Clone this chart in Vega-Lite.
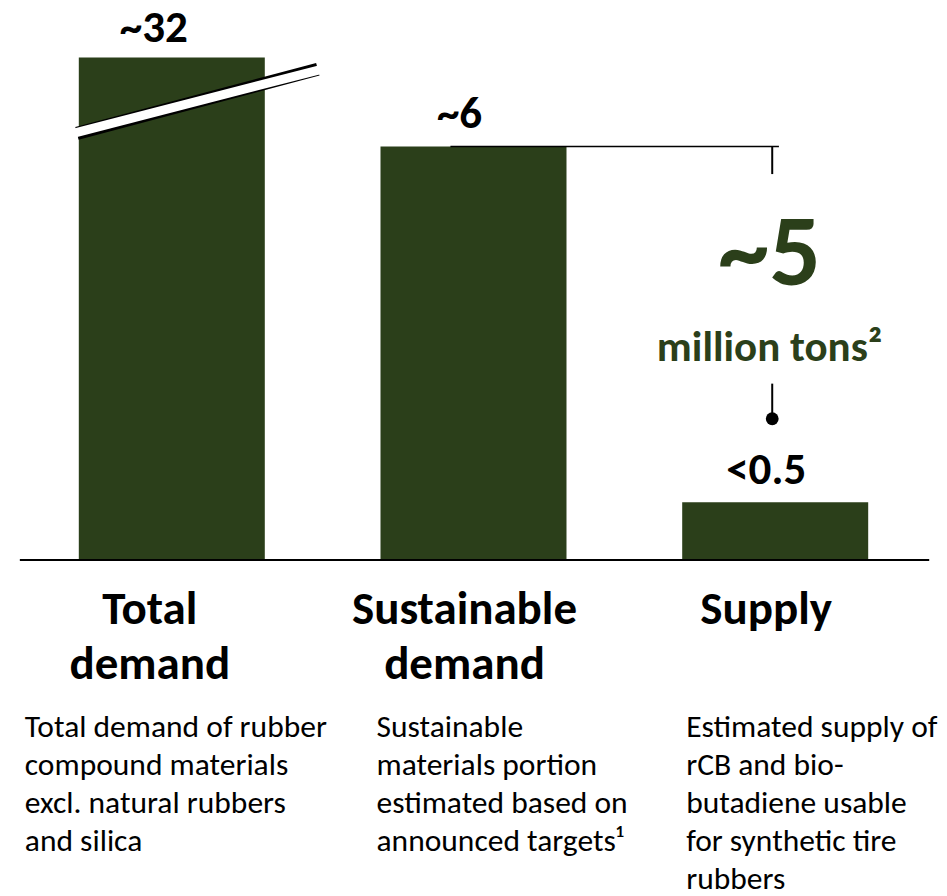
{
  "$schema": "https://vega.github.io/schema/vega-lite/v6.json",
  "width": 947,
  "height": 896,
  "autosize": {"type": "fit", "contains": "padding"},
  "padding": 0,
  "background": "white",
  "config": {"view": {"stroke": null}, "font": "Carlito, Lato", "axis": {"domain": false}},
  "datasets": {
    "bars": [
      {"category": "Total demand", "shown_value": 7.29, "label": "~32", "title": ["Total", "demand"], "desc": ["Total demand of rubber", "compound materials", "excl. natural rubbers", "and silica"]},
      {"category": "Sustainable demand", "shown_value": 6, "label": "~6", "title": ["Sustainable", "demand"], "desc": ["Sustainable", "materials portion", "estimated based on", "announced targets¹"]},
      {"category": "Supply", "shown_value": 0.84, "label": "<0.5", "title": ["Supply"], "desc": ["Estimated supply of", "rCB and bio-", "butadiene usable", "for synthetic tire", "rubbers"]}
    ],
    "breakmark": [
      {"from": "Total demand", "to": "Total demand", "y_start": 6.19, "y_end": 7.12}
    ],
    "baseline": [
      {"from": "Total demand", "to": "Supply", "y": 0}
    ],
    "gap_line": [
      {"from": "Sustainable demand", "to": "Supply", "y": 6}
    ],
    "gap_ticks": [
      {"category": "Supply", "y_start": 6, "y_end": 5.6},
      {"category": "Supply", "y_start": 2.56, "y_end": 2.08}
    ],
    "gap_dot": [
      {"category": "Supply", "y": 2.05}
    ],
    "gap_text": [
      {"category": "Supply", "y": 3.99, "text": "~5", "kind": "big"},
      {"category": "Supply", "y": 2.89, "text": "million tons²", "kind": "unit"}
    ]
  },
  "layer": [
    {
      "data": {"name": "bars"},
      "mark": {"type": "bar", "color": "#2b3f1a"},
      "encoding": {
        "x": {"field": "category", "type": "nominal", "axis": null, "sort": null,
              "scale": {"type": "band", "domain": ["Total demand", "Sustainable demand", "Supply"], "paddingInner": 0.3835, "paddingOuter": 0.2612}},
        "y": {"field": "shown_value", "type": "quantitative", "axis": null,
              "scale": {"domain": [-4.829, 8.125], "nice": false, "zero": false}},
        "y2": {"datum": 0}
      }
    },
    {
      "data": {"name": "breakmark"},
      "mark": {"type": "rule", "color": "black", "strokeWidth": 13, "strokeCap": "butt"},
      "encoding": {
        "x": {"field": "from", "type": "nominal", "bandPosition": -0.01},
        "x2": {"field": "to", "bandPosition": 1.285},
        "y": {"field": "y_start", "type": "quantitative"},
        "y2": {"field": "y_end"}
      }
    },
    {
      "data": {"name": "breakmark"},
      "mark": {"type": "rule", "color": "white", "strokeWidth": 9, "strokeCap": "butt"},
      "encoding": {
        "x": {"field": "from", "type": "nominal", "bandPosition": -0.03},
        "x2": {"field": "to", "bandPosition": 1.305},
        "y": {"field": "y_start", "type": "quantitative"},
        "y2": {"field": "y_end"}
      }
    },
    {
      "data": {"name": "baseline"},
      "mark": {"type": "rule", "color": "black", "strokeWidth": 2},
      "encoding": {
        "x": {"field": "from", "type": "nominal", "bandPosition": -0.317},
        "x2": {"field": "to", "bandPosition": 1.328},
        "y": {"field": "y", "type": "quantitative"}
      }
    },
    {
      "data": {"name": "bars"},
      "transform": [{"filter": "datum.category === 'Total demand'"}],
      "mark": {"type": "text", "fontWeight": "bold", "fontSize": 45, "baseline": "alphabetic", "dy": -16, "dx": -18, "color": "black"},
      "encoding": {
        "x": {"field": "category", "type": "nominal"},
        "y": {"field": "shown_value", "type": "quantitative"},
        "text": {"field": "label"}
      }
    },
    {
      "data": {"name": "bars"},
      "transform": [{"filter": "datum.category === 'Sustainable demand'"}],
      "mark": {"type": "text", "fontWeight": "bold", "fontSize": 45, "baseline": "alphabetic", "dy": -18, "dx": -14, "color": "black"},
      "encoding": {
        "x": {"field": "category", "type": "nominal"},
        "y": {"field": "shown_value", "type": "quantitative"},
        "text": {"field": "label"}
      }
    },
    {
      "data": {"name": "bars"},
      "transform": [{"filter": "datum.category === 'Supply'"}],
      "mark": {"type": "text", "fontWeight": "bold", "fontSize": 45, "baseline": "alphabetic", "dy": -18, "dx": -9, "color": "black"},
      "encoding": {
        "x": {"field": "category", "type": "nominal"},
        "y": {"field": "shown_value", "type": "quantitative"},
        "text": {"field": "label"}
      }
    },
    {
      "data": {"name": "bars"},
      "transform": [{"filter": "datum.category === 'Total demand'"}],
      "mark": {"type": "text", "fontWeight": "bold", "fontSize": 47, "baseline": "alphabetic", "lineHeight": 55, "dx": -22, "color": "black"},
      "encoding": {
        "x": {"field": "category", "type": "nominal"},
        "y": {"datum": -0.925, "type": "quantitative"},
        "text": {"field": "title"}
      }
    },
    {
      "data": {"name": "bars"},
      "transform": [{"filter": "datum.category !== 'Total demand'"}],
      "mark": {"type": "text", "fontWeight": "bold", "fontSize": 47, "baseline": "alphabetic", "lineHeight": 55, "dx": -9, "color": "black"},
      "encoding": {
        "x": {"field": "category", "type": "nominal"},
        "y": {"datum": -0.925, "type": "quantitative"},
        "text": {"field": "title"}
      }
    },
    {
      "data": {"name": "bars"},
      "transform": [{"filter": "datum.category === 'Total demand'"}],
      "mark": {"type": "text", "fontSize": 31.5, "baseline": "alphabetic", "align": "left", "lineHeight": 38, "dx": -54, "color": "black"},
      "encoding": {
        "x": {"field": "category", "type": "nominal", "bandPosition": 0},
        "y": {"datum": -2.573, "type": "quantitative"},
        "text": {"field": "desc"}
      }
    },
    {
      "data": {"name": "bars"},
      "transform": [{"filter": "datum.category === 'Sustainable demand'"}],
      "mark": {"type": "text", "fontSize": 31.5, "baseline": "alphabetic", "align": "left", "lineHeight": 38, "dx": -4, "color": "black"},
      "encoding": {
        "x": {"field": "category", "type": "nominal", "bandPosition": 0},
        "y": {"datum": -2.573, "type": "quantitative"},
        "text": {"field": "desc"}
      }
    },
    {
      "data": {"name": "bars"},
      "transform": [{"filter": "datum.category === 'Supply'"}],
      "mark": {"type": "text", "fontSize": 31.5, "baseline": "alphabetic", "align": "left", "lineHeight": 38, "dx": 4, "color": "black"},
      "encoding": {
        "x": {"field": "category", "type": "nominal", "bandPosition": 0},
        "y": {"datum": -2.573, "type": "quantitative"},
        "text": {"field": "desc"}
      }
    },
    {
      "data": {"name": "gap_line"},
      "mark": {"type": "rule", "color": "black", "strokeWidth": 1.5},
      "encoding": {
        "x": {"field": "from", "type": "nominal", "bandPosition": 0.376},
        "x2": {"field": "to", "bandPosition": 0.52},
        "y": {"field": "y", "type": "quantitative"}
      }
    },
    {
      "data": {"name": "gap_ticks"},
      "mark": {"type": "rule", "color": "black", "strokeWidth": 2},
      "encoding": {
        "x": {"field": "category", "type": "nominal", "bandPosition": 0.484},
        "y": {"field": "y_start", "type": "quantitative"},
        "y2": {"field": "y_end"}
      }
    },
    {
      "data": {"name": "gap_dot"},
      "mark": {"type": "point", "filled": true, "color": "black", "size": 165, "opacity": 1},
      "encoding": {
        "x": {"field": "category", "type": "nominal", "bandPosition": 0.484},
        "y": {"field": "y", "type": "quantitative"}
      }
    },
    {
      "data": {"name": "gap_text"},
      "mark": {"type": "text", "fontWeight": "bold", "baseline": "alphabetic", "color": "#2b3f1a"},
      "encoding": {
        "x": {"field": "category", "type": "nominal", "bandPosition": 0.47},
        "y": {"field": "y", "type": "quantitative"},
        "text": {"field": "text"},
        "size": {"field": "kind", "type": "nominal", "legend": null,
                 "scale": {"domain": ["big", "unit"], "range": [102, 43]}}
      }
    }
  ]
}
